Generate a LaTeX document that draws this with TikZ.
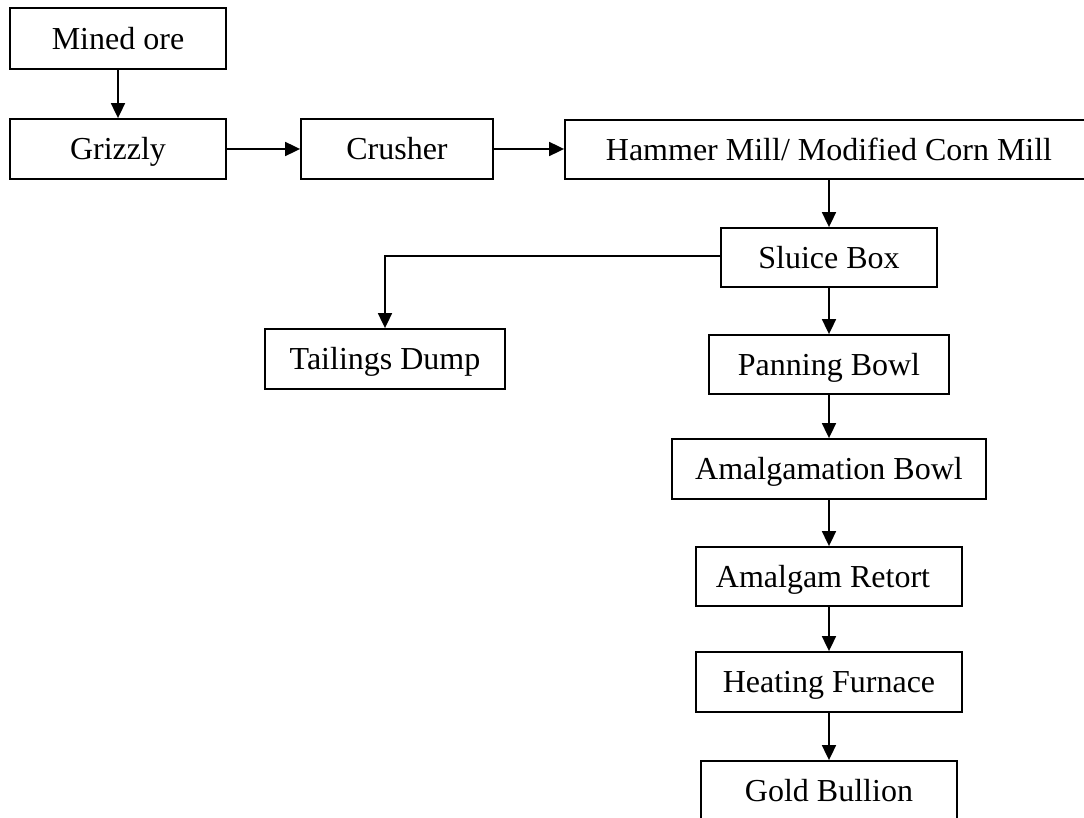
\documentclass[tikz,border=0pt]{standalone}
\usepackage{fontspec}
\setmainfont{Liberation Serif}
\usetikzlibrary{arrows.meta}
\begin{document}
\begin{tikzpicture}[x=0.5pt,y=-0.5pt,
  box/.style={draw=black, line width=0.9pt, inner sep=0pt, align=center,
    text height=10.6pt, text depth=0pt,
    font=\fontsize{16}{19}\selectfont},
  flow/.style={draw=black, line width=0.9pt, -{Triangle[length=7.5pt,width=7pt]}}]
\useasboundingbox (0,0) rectangle (1084,818);
\clip (0,0) rectangle (1084,818);
\node[box, minimum width=108pt, minimum height=30.5pt] (ore) at (118,38.5) {Mined ore};
\node[box, minimum width=108pt, minimum height=30pt] (griz) at (118,149) {Grizzly};
\node[box, minimum width=96pt, minimum height=30pt] (crush) at (397,149) {Crusher};
\node[box, minimum width=264pt, minimum height=29.5pt] (hammer) at (829,149.5) {Hammer Mill/ Modified Corn Mill};
\node[box, minimum width=108pt, minimum height=29.5pt] (sluice) at (829,257.5) {Sluice Box};
\node[box, minimum width=120pt, minimum height=30pt] (tail) at (385,359) {Tailings Dump};
\node[box, minimum width=120pt, minimum height=29.5pt] (pan) at (829,364.5) {Panning Bowl};
\node[box, minimum width=157pt, minimum height=30pt] (amal) at (829,469) {Amalgamation Bowl};
\node[box, minimum width=133pt, minimum height=29.5pt] (ret) at (829,576.5) {Amalgam Retort\hspace*{6pt}};
\node[box, minimum width=133pt, minimum height=30pt] (heat) at (829,682) {Heating Furnace};
\node[box, minimum width=128pt, minimum height=30pt] (gold) at (829,791) {Gold Bullion};
\draw[flow] (ore) -- (griz);
\draw[flow] (griz) -- (crush);
\draw[flow] (crush.east) -- (crush.east -| hammer.west);
\draw[flow] (hammer.south -| sluice.north) -- (sluice.north);
\draw[flow] ([yshift=0.75pt]sluice.west) -| (tail.north);
\draw[flow] (sluice.south -| pan.north) -- (pan.north);
\draw[flow] (pan.south) -- (pan.south |- amal.north);
\draw[flow] (amal.south) -- (amal.south |- ret.north);
\draw[flow] (ret) -- (heat);
\draw[flow] (heat) -- (gold);
\end{tikzpicture}
\end{document}
